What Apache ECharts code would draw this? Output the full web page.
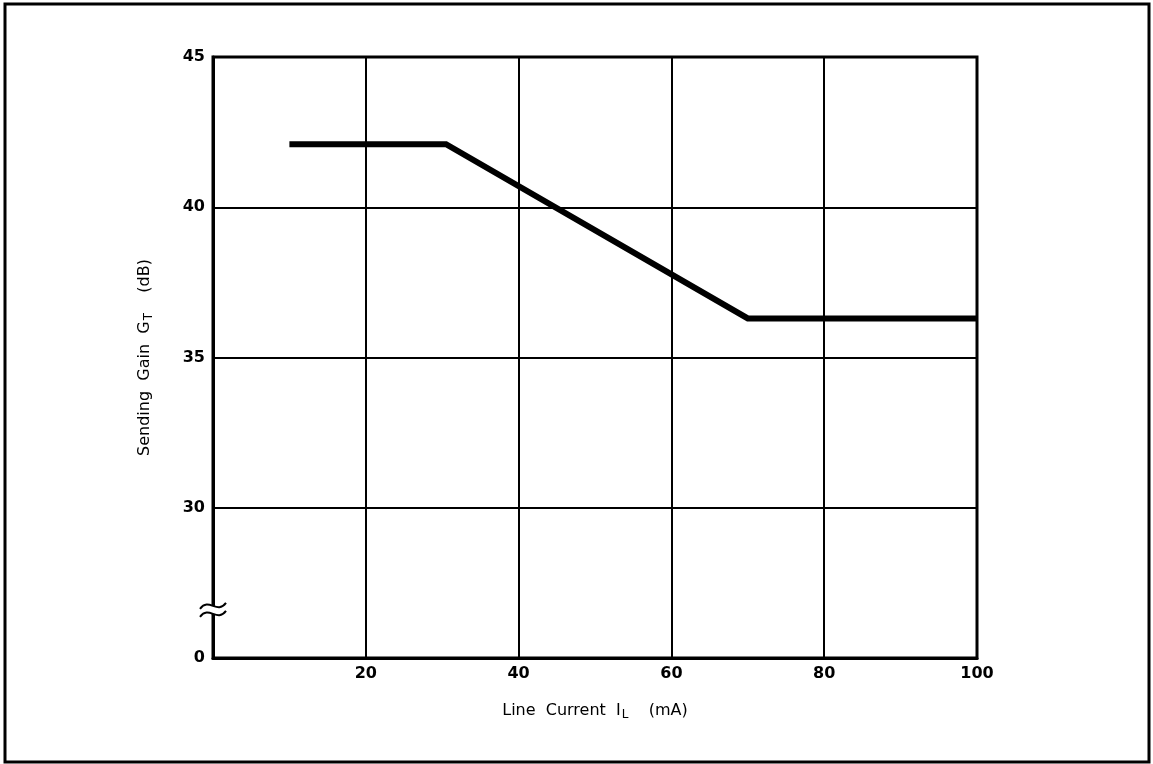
<!DOCTYPE html>
<html>
<head>
<meta charset="utf-8">
<title>Sending Gain vs Line Current</title>
<script src="https://cdn.jsdelivr.net/npm/echarts@6/dist/echarts.min.js"></script>
<style>
  html, body { margin: 0; padding: 0; background: #fff; }
  #main { width: 1153px; height: 764px; }
</style>
</head>
<body>
<div id="main"></div>
<script>
// line current (mA) and sending gain (dB)
var currentMA = [10, 30.5, 70, 100];
var gainDB = [42.1, 42.1, 36.3, 36.3];
// the y axis is broken below 30, bottom tick is shown as 0
var yBreakValue = 25;
var yBreakLabel = '0';

var chart = echarts.init(document.getElementById('main'));

var points = currentMA.map(function (x, i) { return [x, gainDB[i]]; });

var nameStyle = {
  color: '#000', fontSize: 16, fontFamily: 'DejaVu Sans',
  rich: { sub: { fontSize: 12, fontFamily: 'DejaVu Sans', color: '#000', padding: [9, 0, 0, 1] } }
};
var tickLabel = {
  color: '#000', fontSize: 16, fontWeight: 'bold', fontFamily: 'DejaVu Sans', margin: 8
};

var option = {
  animation: false,
  backgroundColor: '#fff',
  grid: {
    left: 213, top: 57, width: 764, height: 601,
    show: true, borderColor: '#000', borderWidth: 3, backgroundColor: 'transparent'
  },
  xAxis: {
    type: 'value',
    min: 0, max: 100, interval: 20,
    name: 'Line  Current  I{sub|L}    (mA)',
    nameLocation: 'middle',
    nameGap: 42,
    nameTextStyle: nameStyle,
    axisLine: { lineStyle: { color: '#000', width: 3 } },
    axisTick: { show: false },
    axisLabel: Object.assign({}, tickLabel, {
      formatter: function (v) { return v === 0 ? '' : v; }
    }),
    splitLine: { lineStyle: { color: '#000', width: 2 } }
  },
  yAxis: {
    type: 'value',
    min: yBreakValue, max: 45, interval: 5,
    name: 'Sending  Gain  G{sub|T}    (dB)',
    nameLocation: 'middle',
    nameGap: 58,
    nameTextStyle: nameStyle,
    axisLine: { lineStyle: { color: '#000', width: 3 } },
    axisTick: { show: false },
    axisLabel: Object.assign({}, tickLabel, {
      formatter: function (v) { return v === yBreakValue ? yBreakLabel : v; }
    }),
    // no gridline at the broken part
    splitLine: {
      lineStyle: { color: ['transparent', '#000', '#000', '#000', '#000'], width: 2 }
    }
  },
  series: [{
    type: 'line',
    data: points,
    symbol: 'none',
    lineStyle: { color: '#000', width: 6, cap: 'butt', join: 'miter' }
  }]
};
chart.setOption(option);

// outer frame + axis break mark (placed from the axis scale)
var p = chart.convertToPixel({ gridIndex: 0 }, [0, 26.6]);
var bx = p[0], by = p[1];
function wave(dy) {
  return {
    type: 'bezierCurve',
    shape: {
      x1: bx - 13, y1: by + dy + 3,
      cpx1: bx - 4, cpy1: by + dy - 9,
      cpx2: bx + 4, cpy2: by + dy + 9,
      x2: bx + 13, y2: by + dy - 3
    },
    style: { fill: null, stroke: '#000', lineWidth: 2 },
    z: 101
  };
}
chart.setOption({
  graphic: [
    {
      type: 'rect',
      shape: { x: 5, y: 4, width: 1144, height: 758 },
      style: { fill: null, stroke: '#000', lineWidth: 3 },
      silent: true
    },
    {
      type: 'rect',
      shape: { x: bx - 3, y: by - 4, width: 6, height: 8 },
      style: { fill: '#fff' },
      z: 100
    },
    wave(-4),
    wave(4)
  ]
});
</script>
</body>
</html>
